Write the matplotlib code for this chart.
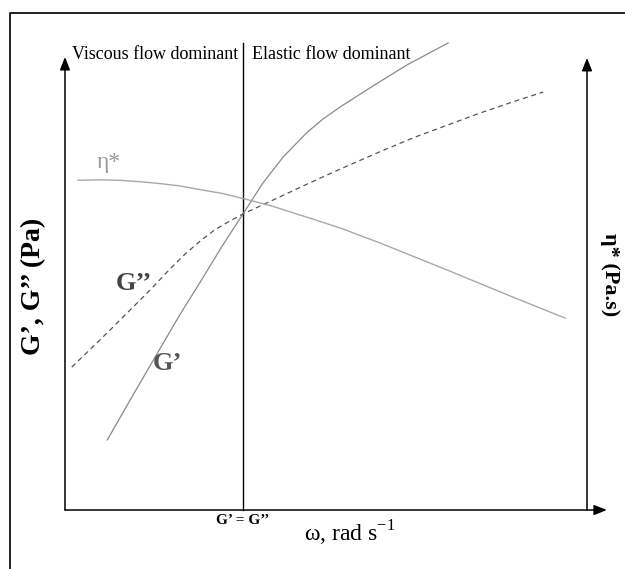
import matplotlib
matplotlib.use("Agg")
import matplotlib.pyplot as plt
from matplotlib.lines import Line2D

plt.rcParams['font.family'] = ['Liberation Serif', 'DejaVu Serif']
plt.rcParams['mathtext.fontset'] = 'custom'
plt.rcParams['mathtext.rm'] = 'Liberation Serif'

# schematic units: frequency axis 0..100, modulus / viscosity axis 0..100
g1_x = [8.1, 12.5, 17.6, 22.0, 25.9, 30.1, 34.1, 37.9, 41.8, 46.4, 49.4, 52.7, 59.0, 65.5, 73.4]
g1_y = [15.0, 23.6, 33.4, 41.8, 48.8, 56.5, 63.4, 70.0, 75.6, 80.9, 83.7, 86.3, 90.8, 95.3, 100.0]

g2_x = [1.3, 8.6, 16.3, 20.1, 23.0, 25.9, 28.7, 31.6, 34.1, 39.9, 46.4, 52.7, 60.3, 66.7, 73.2, 79.5, 85.8, 91.6]
g2_y = [30.6, 38.5, 47.1, 51.6, 54.8, 57.6, 60.0, 61.9, 63.4, 66.4, 69.8, 73.0, 76.7, 79.7, 82.4, 85.0, 87.4, 89.5]

eta_x = [2.5, 6.7, 10.5, 14.4, 18.2, 22.0, 25.9, 30.1, 34.5, 39.9, 46.9, 52.7, 60.3, 73.2, 85.8, 95.8]
eta_y = [70.6, 70.7, 70.6, 70.3, 69.9, 69.4, 68.6, 67.8, 66.6, 65.0, 62.5, 60.4, 57.2, 51.4, 45.6, 41.1]

crossover = 34.1

fig = plt.figure(figsize=(6.25, 5.69), dpi=100)
ax = fig.add_axes([0, 0, 1, 1])
ax.set_xlim(-12.45, 107.28)
ax.set_ylim(-12.63, 109.21)
ax.axis('off')

# outer frame (left and top only)
fig.add_artist(Line2D([10 / 625, 10 / 625, 1.0], [0.0, 1 - 13 / 569, 1 - 13 / 569],
                      transform=fig.transFigure, color='#222222', lw=1.4))

arrow = dict(arrowstyle='-|>,head_length=0.55,head_width=0.22', color='black', lw=1.1,
             shrinkA=0, shrinkB=0, mutation_scale=14)
ax.annotate('', xy=(0, 97.0), xytext=(0, 0), arrowprops=arrow)
ax.annotate('', xy=(100, 96.8), xytext=(100, 0), arrowprops=arrow)
ax.annotate('', xy=(103.8, 0), xytext=(0, 0), arrowprops=arrow)
ax.plot([crossover, crossover], [0, 100], color='black', lw=1.0)

ax.plot(g1_x, g1_y, color='#8a8a8a', lw=0.9)
ax.plot(g2_x, g2_y, color='#555555', lw=0.9, linestyle=(0, (4, 3)))
ax.plot(eta_x, eta_y, color='#a8a8a8', lw=1.0)

ax.text(1.34, 96.6, 'Viscous flow dominant', fontsize=13, va='baseline', ha='left')
ax.text(35.8, 96.6, 'Elastic flow dominant', fontsize=13, va='baseline', ha='left')

ax.text(8.4, 74.5, 'η*', fontsize=17, color='#9a9a9a', ha='center', va='center')
ax.text(13.2, 48.4, 'G’’', fontsize=19, fontweight='bold', color='#444444', ha='center', va='center')
ax.text(19.6, 31.3, 'G’', fontsize=19, fontweight='bold', color='#555555', ha='center', va='center')

ax.text(crossover, -2.2, 'G’ = G’’', fontsize=11, fontweight='bold', ha='center', va='center')
ax.text(45.8, -4.9, 'ω, rad s$^{-1}$', fontsize=17, ha='left', va='center')

ax.text(-6.0, 47.8, 'G’, G’’ (Pa)', fontsize=20, fontweight='bold', rotation=90,
        ha='center', va='center')
ax.text(104.4, 50.5, 'η* (Pa.s)', fontsize=16, fontweight='bold', rotation=270,
        ha='center', va='center')

fig.savefig('out.png', dpi=100)
